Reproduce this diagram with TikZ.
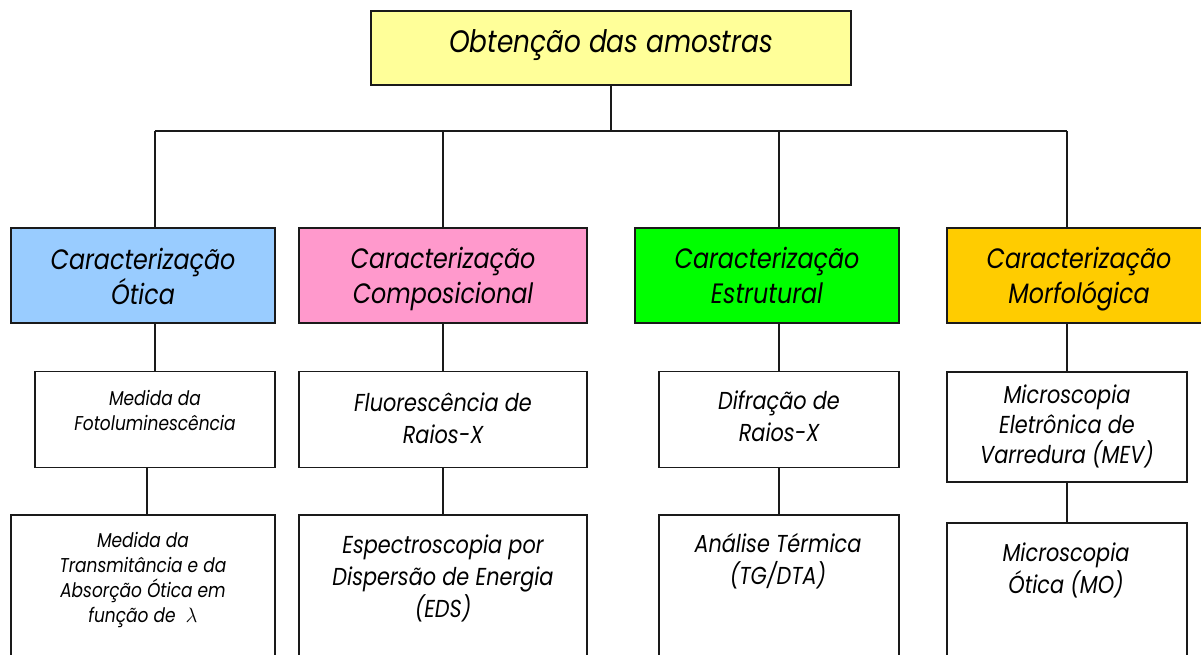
\documentclass[tikz,border=0pt]{standalone}
\usepackage{fontspec}
\setmainfont{Poppins}[FakeStretch=0.85]
\definecolor{cyellow}{HTML}{FFFF99}
\definecolor{cblue}{HTML}{99CCFF}
\definecolor{cpink}{HTML}{FF99CC}
\definecolor{cgreen}{HTML}{00FF00}
\definecolor{corange}{HTML}{FFCC00}
\definecolor{cline}{HTML}{1A1A1A}
\begin{document}
\begin{tikzpicture}[x=1pt,y=-1pt,
  box/.style={draw=cline, line width=1.6pt, inner sep=0pt, fill=white},
  conn/.style={draw=cline, line width=1.6pt},
  lbl/.style={align=center, inner sep=0pt, text=black},
  fbig/.style={font=\fontsize{31}{34}\selectfont\itshape},
  fmid/.style={font=\fontsize{28}{35}\selectfont\itshape},
  fsub/.style={font=\fontsize{24.5}{32}\selectfont\itshape},
  fmev/.style={font=\fontsize{24.5}{30}\selectfont\itshape},
  fsmall/.style={font=\fontsize{20}{25}\selectfont\itshape}]
\clip (0,0) rectangle (1201,654);
\useasboundingbox (0,0) rectangle (1201,654);
% level 1
\node[box, fill=cyellow, minimum width=480, minimum height=74] (top) at (611,48) {};
% level 2
\node[box, fill=cblue, minimum width=264, minimum height=95] (ot) at (143,275.5) {};
\node[box, fill=cpink, minimum width=288, minimum height=95] (comp) at (443,275.5) {};
\node[box, fill=cgreen, minimum width=264, minimum height=95] (est) at (767,275.5) {};
\node[box, fill=corange, minimum width=264, minimum height=95] (morf) at (1079,275.5) {};
% level 3
\node[box, minimum width=240, minimum height=96] (foto) at (155,419.5) {};
\node[box, minimum width=288, minimum height=96] (fluo) at (443,419.5) {};
\node[box, minimum width=240, minimum height=96] (difr) at (779,419.5) {};
\node[box, minimum width=240, minimum height=110] (mev) at (1067,427) {};
% level 4
\node[box, minimum width=264, minimum height=160] (trans) at (143,595) {};
\node[box, minimum width=288, minimum height=160] (eds) at (443,595) {};
\node[box, minimum width=240, minimum height=160] (ana) at (779,595) {};
\node[box, minimum width=240, minimum height=160] (mo) at (1067,603) {};
% connectors
\coordinate (bus) at (611,131);
\coordinate (tx) at (147,0);
\draw[conn] (top.south) -- (bus);
\draw[conn] (foto.north |- bus) -- (mev.north |- bus);
\draw[conn] (foto.north |- bus) -- (foto.north |- ot.north);
\draw[conn] (fluo.north |- bus) -- (comp.north);
\draw[conn] (difr.north |- bus) -- (difr.north |- est.north);
\draw[conn] (mev.north |- bus) -- (mev.north |- morf.north);
\draw[conn] (foto.north |- ot.south) -- (foto.north);
\draw[conn] (comp.south) -- (fluo.north);
\draw[conn] (difr.north |- est.south) -- (difr.north);
\draw[conn] (mev.north |- morf.south) -- (mev.north);
\draw[conn] (tx |- foto.south) -- (tx |- trans.north);
\draw[conn] (fluo.south) -- (eds.north);
\draw[conn] (difr.south) -- (ana.north);
\draw[conn] (mev.south) -- (mo.north);
% texts
\node[lbl, fbig] (ttop) at (611,45) {Obtenção das amostras};
\node[lbl, fmid] (tot) at (143,276) {Caracterização\\Ótica};
\node[lbl, fmid] (tcomp) at (443,279) {Caracterização\\Composicional};
\node[lbl, fmid] (test) at (767,275.5) {Caracterização\\Estrutural};
\node[lbl, fmid] (tmorf) at (1079,279) {Caracterização\\Morfológica};
\node[lbl, fsmall] (tfoto) at (155,410) {Medida da\\Fotoluminescência};
\node[lbl, fsub] (tfluo) at (443,418) {Fluorescência de\\Raios-X};
\node[lbl, fsub] (tdifr) at (779,416) {Difração de\\Raios-X};
\node[lbl, fmev] (tmev) at (1067,426) {Microscopia\\Eletrônica de\\Varredura (MEV)};
\node[lbl, fsmall] (ttrans) at (143,580) {Medida da\\Transmitância e da\\Absorção Ótica em\\função de \ $\lambda$};
\node[lbl, fsub] (teds) at (443,578) {Espectroscopia por\\Dispersão de Energia\\(EDS)};
\node[lbl, fsub] (tana) at (778,561) {Análise Térmica\\(TG/DTA)};
\node[lbl, fsub] (tmo) at (1066,570) {Microscopia\\Ótica (MO)};
\end{tikzpicture}
\end{document}
